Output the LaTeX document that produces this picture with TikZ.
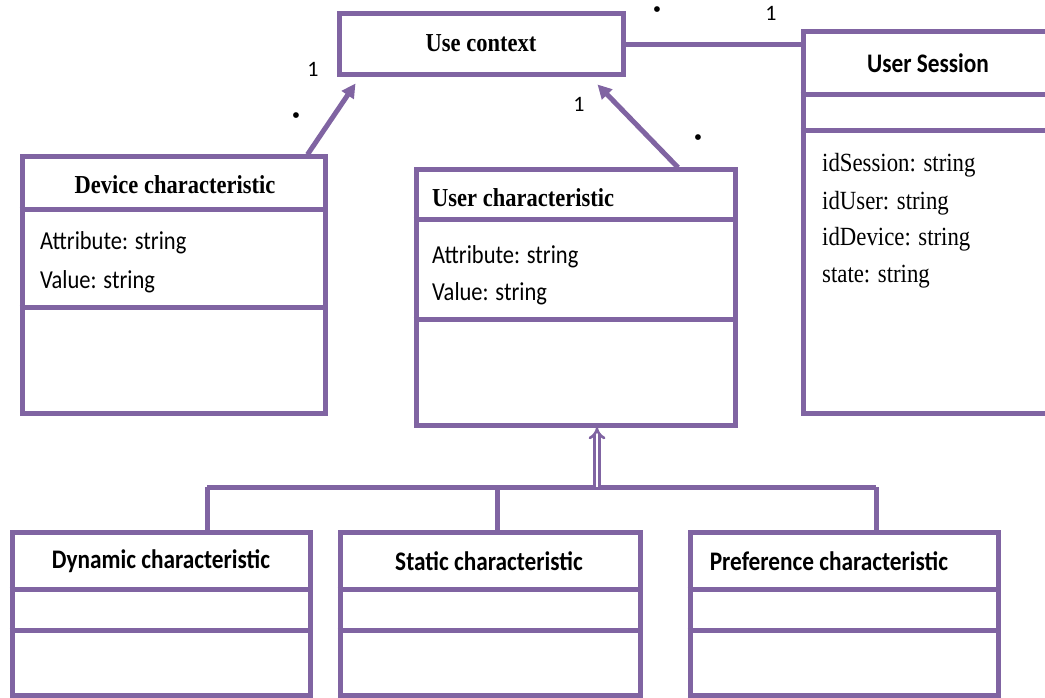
\documentclass[tikz,border=0pt]{standalone}
\usepackage{graphicx}
\usepackage{fontspec}
\setmainfont{Liberation Serif}
\setsansfont{Carlito}
\usetikzlibrary{arrows.meta,calc}
\definecolor{umlpurple}{HTML}{8064A2}
\newcommand\talltext[1]{\scalebox{1}[1.15]{#1}}
\begin{document}
\begin{tikzpicture}[x=1pt,y=-1pt,
  cls/.style={draw=umlpurple, line width=5pt, rectangle, inner sep=0pt},
  div/.style={draw=umlpurple, line width=5pt},
  conn/.style={draw=umlpurple, line width=5pt},
  assoc/.style={conn, -{Triangle[length=14pt,width=14pt]}},
  sertitle/.style={font=\fontsize{22.5}{26}\selectfont\bfseries, inner sep=0pt},
  santitle/.style={font=\sffamily\fontsize{23.3}{26}\selectfont\bfseries, inner sep=0pt},
  sanattr/.style={font=\sffamily\fontsize{22.5}{26}\selectfont, inner sep=0pt, anchor=west},
  serattr/.style={font=\fontsize{22.8}{26}\selectfont, inner sep=0pt, anchor=west},
  mult/.style={font=\sffamily\fontsize{22}{26}\selectfont, inner sep=0pt},
  dot/.style={font=\fontsize{24}{26}\selectfont, inner sep=0pt}]
\useasboundingbox (0,0) rectangle (1045,698);

% Use context
\node[cls, minimum width=284pt, minimum height=61pt] (uc) at (481,44.5) {};
\node[sertitle] (uct) at (481,43) {\talltext{Use context}};

% User Session
\node[cls, minimum width=257pt, minimum height=381pt] (us) at (931.5,222.5) {};
\draw[div] ([yshift=-65pt]us.north west) -- ([yshift=-65pt]us.north east);
\draw[div] ([yshift=-101pt]us.north west) -- ([yshift=-101pt]us.north east);
\node[santitle] (ust) at (928,63) {\talltext{User Session}};
\node[serattr] (us1) at (822,165) {\talltext{idSession: string}};
\node[serattr] (us2) at (822,203) {\talltext{idUser: string}};
\node[serattr] (us3) at (822,239) {\talltext{idDevice: string}};
\node[serattr] (us4) at (822,277) {\talltext{state: string}};

% Device characteristic
\node[cls, minimum width=303pt, minimum height=256pt] (dc) at (173.5,285) {};
\draw[div] ([yshift=-55pt]dc.north west) -- ([yshift=-55pt]dc.north east);
\draw[div] ([yshift=-153pt]dc.north west) -- ([yshift=-153pt]dc.north east);
\node[sertitle] (dct) at (175,185) {\talltext{Device characteristic}};
\node[sanattr] (dc1) at (40,243) {\talltext{Attribute: string}};
\node[sanattr] (dc2) at (40,282) {\talltext{Value: string}};

% User characteristic
\node[cls, minimum width=319pt, minimum height=255pt] (uch) at (575.5,297.5) {};
\draw[div] ([yshift=-52pt]uch.north west) -- ([yshift=-52pt]uch.north east);
\draw[div] ([yshift=-152pt]uch.north west) -- ([yshift=-152pt]uch.north east);
\node[sertitle, anchor=west] (ucht) at (432,198) {\talltext{User characteristic}};
\node[sanattr] (uch1) at (432,257) {\talltext{Attribute: string}};
\node[sanattr] (uch2) at (432,294) {\talltext{Value: string}};

% Bottom classes
\foreach \nm/\cx/\w/\t/\tx in {dyn/161/298/Dynamic characteristic/161, sta/490/300/Static characteristic/489, pre/844/308/Preference characteristic/829}{
  \node[cls, minimum width=\w pt, minimum height=163pt] (\nm) at (\cx,613.5) {};
  \draw[div] ([yshift=-60pt]\nm.north west) -- ([yshift=-60pt]\nm.north east);
  \draw[div] ([yshift=-101pt]\nm.north west) -- ([yshift=-101pt]\nm.north east);
  \node[santitle] (\nm t) at (\tx,561) {\talltext{\t}};
}

% Association Use context -- User Session
\draw[conn] (uc.east) -- (us.west |- uc.east);
\node[dot] (m1) at (657,12) {•};
\node[mult] (m2) at (771,13) {1};

% Associations to Use context
\coordinate (dtip) at ([xshift=19pt,yshift=-6pt]uc.south west);
\coordinate (utip) at ([xshift=-28pt,yshift=-7pt]uc.south east);
\draw[assoc] ([xshift=-20pt]dc.north east) -- (dtip);
\draw[assoc] ([xshift=102.5pt]uch.north) -- (utip);
\node[mult] (m3) at (313,69) {1};
\node[dot] (m4) at (296,118) {•};
\node[mult] (m5) at (579,104) {1};
\node[dot] (m6) at (698,140) {•};

% Generalization
\coordinate (gj) at (597,487);
\coordinate (gl) at (207,487);
\coordinate (gr) at (876,487);
\draw[conn] (gl) -- (gr);
\draw[conn] (gl) -- (gl |- dyn.north);
\draw[conn] (497,487) -- (497,0 |- sta.north);
\draw[conn] (gr) -- (gr |- pre.north);
\draw[draw=umlpurple, line width=2.6pt, double=white, double distance=2.8pt, -{Implies[length=10pt,width=18pt]}] (gj) -- (gj |- uch.south);
\end{tikzpicture}
\end{document}
